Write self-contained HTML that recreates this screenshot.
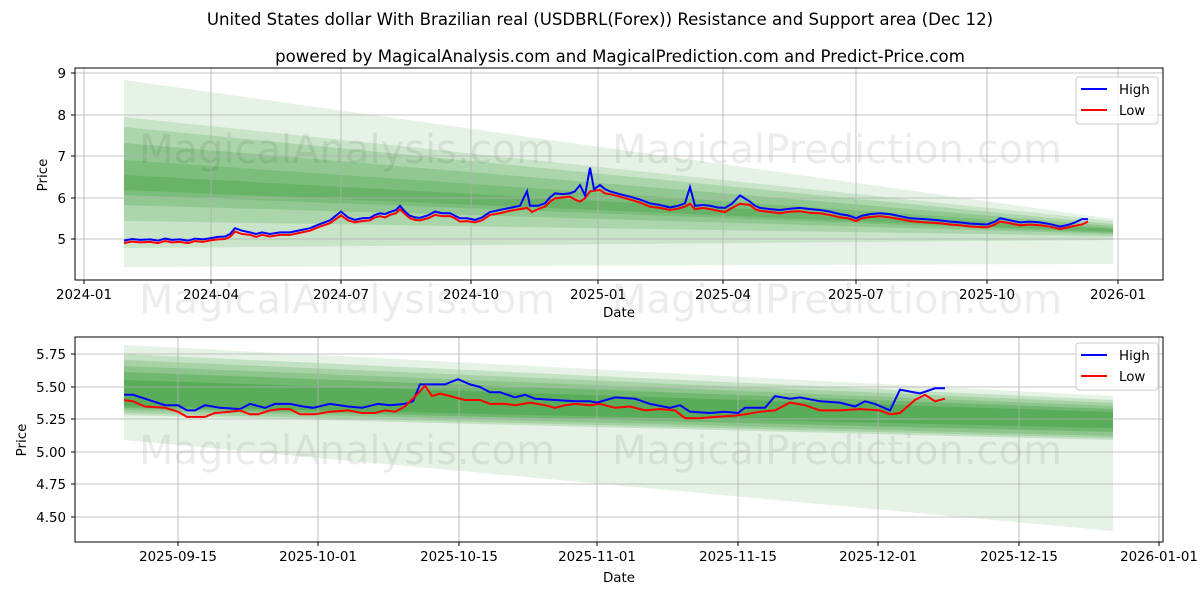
<!DOCTYPE html>
<html><head><style>body{margin:0;background:#fff}svg{display:block;font-family:"DejaVu Sans","Liberation Sans",sans-serif}</style></head><body>
<svg width="1200" height="600" xmlns="http://www.w3.org/2000/svg">
<text x="600" y="25" font-size="16.6" text-anchor="middle">United States dollar With Brazilian real (USDBRL(Forex)) Resistance and Support area (Dec 12)</text>
<text x="620" y="62" font-size="16.6" text-anchor="middle">powered by MagicalAnalysis.com and MagicalPrediction.com and Predict-Price.com</text>
<g fill="rgb(0,128,0)">
<polygon points="124,80 1113,219 1113,264 124,267" opacity="0.1"/>
<polygon points="124,117 1113,221 1113,240 124,248" opacity="0.12"/>
<polygon points="124,127 1113,224 1113,236 124,221" opacity="0.15"/>
<polygon points="124,143 1113,226 1113,234 124,205" opacity="0.15"/>
<polygon points="124,160 1113,228 1113,233 124,195" opacity="0.15"/>
<polygon points="124,175 1113,229 1113,232 124,190" opacity="0.15"/>
</g>
<g font-size="40" fill="#000" opacity="0.07" text-anchor="middle">
<text x="347" y="163">MagicalAnalysis.com</text><text x="837" y="163">MagicalPrediction.com</text>
<text x="347" y="313">MagicalAnalysis.com</text><text x="837" y="313">MagicalPrediction.com</text>
<text x="347" y="464">MagicalAnalysis.com</text><text x="837" y="464">MagicalPrediction.com</text>
</g>
<g stroke="#b0b0b0" stroke-width="0.8">
<line x1="84" y1="68" x2="84" y2="280"/><line x1="211" y1="68" x2="211" y2="280"/><line x1="341" y1="68" x2="341" y2="280"/><line x1="471" y1="68" x2="471" y2="280"/><line x1="598" y1="68" x2="598" y2="280"/><line x1="723" y1="68" x2="723" y2="280"/><line x1="856" y1="68" x2="856" y2="280"/><line x1="987" y1="68" x2="987" y2="280"/><line x1="1118" y1="68" x2="1118" y2="280"/>
<line x1="75" y1="73" x2="1163" y2="73"/><line x1="75" y1="115" x2="1163" y2="115"/><line x1="75" y1="156" x2="1163" y2="156"/><line x1="75" y1="198" x2="1163" y2="198"/><line x1="75" y1="239" x2="1163" y2="239"/>
</g>
<g transform="translate(0,446.5) scale(1,-41.5)" fill="none" stroke-width="2">
<polyline vector-effect="non-scaling-stroke" stroke="#ff0000" points="124,4.9 132,4.94 140,4.92 150,4.93 158,4.9 165,4.95 172,4.92 180,4.93 188,4.9 195,4.95 203,4.93 211,4.97 218,4.99 225,5.0 230,5.05 235,5.18 242,5.12 250,5.1 256,5.05 262,5.1 270,5.06 280,5.1 290,5.1 300,5.15 310,5.2 320,5.3 330,5.38 341,5.57 348,5.45 355,5.4 362,5.43 370,5.45 375,5.52 380,5.55 385,5.52 390,5.58 396,5.62 400,5.72 405,5.6 410,5.5 415,5.46 420,5.45 428,5.5 435,5.58 442,5.55 450,5.55 455,5.5 460,5.42 467,5.43 475,5.4 482,5.45 490,5.58 500,5.62 510,5.68 520,5.72 527,5.75 532,5.65 538,5.72 545,5.78 550,5.9 555,5.98 562,6.0 570,6.02 575,5.95 580,5.9 585,5.98 590,6.15 600,6.18 605,6.1 610,6.08 620,6.02 630,5.95 640,5.88 650,5.78 660,5.75 670,5.7 678,5.73 685,5.78 690,5.85 695,5.72 703,5.75 710,5.72 718,5.68 725,5.65 732,5.75 740,5.85 750,5.82 755,5.72 760,5.68 770,5.65 780,5.62 790,5.66 800,5.67 810,5.63 820,5.62 830,5.58 840,5.52 848,5.5 856,5.43 862,5.5 870,5.53 880,5.55 890,5.52 900,5.48 910,5.43 925,5.4 940,5.38 950,5.35 960,5.33 970,5.3 987,5.28 995,5.35 1000,5.42 1010,5.38 1020,5.33 1030,5.35 1040,5.33 1050,5.3 1060,5.24 1068,5.28 1075,5.32 1082,5.35 1088,5.42"/>
<polyline vector-effect="non-scaling-stroke" stroke="#0000ff" points="124,4.96 132,5.0 140,4.98 150,4.99 158,4.96 165,5.01 172,4.98 180,4.99 188,4.96 195,5.01 203,4.99 211,5.02 218,5.05 225,5.06 230,5.12 235,5.26 242,5.2 250,5.16 256,5.12 262,5.16 270,5.12 280,5.16 290,5.16 300,5.21 310,5.26 320,5.36 330,5.45 341,5.66 348,5.52 355,5.46 362,5.5 370,5.51 375,5.58 380,5.62 385,5.6 390,5.65 396,5.7 400,5.8 405,5.66 410,5.56 415,5.52 420,5.51 428,5.57 435,5.66 442,5.62 450,5.62 455,5.56 460,5.5 467,5.5 475,5.46 482,5.52 490,5.65 500,5.7 510,5.75 520,5.8 527,6.15 530,5.8 538,5.8 545,5.86 550,6.0 555,6.1 562,6.08 570,6.1 575,6.15 580,6.3 585,6.05 590,6.72 594,6.2 600,6.3 605,6.2 610,6.15 620,6.08 630,6.02 640,5.95 650,5.86 660,5.82 670,5.76 678,5.8 685,5.86 690,6.25 695,5.8 703,5.82 710,5.8 718,5.76 725,5.75 732,5.85 740,6.05 750,5.9 755,5.8 760,5.75 770,5.72 780,5.7 790,5.73 800,5.75 810,5.72 820,5.7 830,5.66 840,5.6 848,5.57 856,5.5 862,5.56 870,5.6 880,5.62 890,5.6 900,5.55 910,5.5 925,5.48 940,5.45 950,5.42 960,5.4 970,5.37 987,5.35 995,5.42 1000,5.5 1010,5.45 1020,5.4 1030,5.42 1040,5.4 1050,5.36 1060,5.3 1068,5.34 1075,5.4 1082,5.48 1088,5.48"/>
</g>
<rect x="75" y="68" width="1088" height="212" fill="none" stroke="#000" stroke-width="1"/>
<g font-size="13.4" text-anchor="middle">
<text x="84" y="299">2024-01</text><text x="211" y="299">2024-04</text><text x="341" y="299">2024-07</text><text x="471" y="299">2024-10</text><text x="598" y="299">2025-01</text><text x="723" y="299">2025-04</text><text x="856" y="299">2025-07</text><text x="987" y="299">2025-10</text><text x="1118" y="299">2026-01</text>
<text x="619" y="317" font-size="13.4">Date</text>
</g>
<g font-size="13.4" text-anchor="end">
<text x="66" y="78">9</text><text x="66" y="120">8</text><text x="66" y="161">7</text><text x="66" y="203">6</text><text x="66" y="244">5</text>
</g>
<text transform="translate(47,175) rotate(-90)" font-size="13.4" text-anchor="middle">Price</text>
<g stroke="#000" stroke-width="1"><line x1="84" y1="280" x2="84" y2="284"/><line x1="211" y1="280" x2="211" y2="284"/><line x1="341" y1="280" x2="341" y2="284"/><line x1="471" y1="280" x2="471" y2="284"/><line x1="598" y1="280" x2="598" y2="284"/><line x1="723" y1="280" x2="723" y2="284"/><line x1="856" y1="280" x2="856" y2="284"/><line x1="987" y1="280" x2="987" y2="284"/><line x1="1118" y1="280" x2="1118" y2="284"/>
<line x1="71" y1="73" x2="75" y2="73"/><line x1="71" y1="115" x2="75" y2="115"/><line x1="71" y1="156" x2="75" y2="156"/><line x1="71" y1="198" x2="75" y2="198"/><line x1="71" y1="239" x2="75" y2="239"/></g>
<rect x="1076" y="77" width="82" height="47" rx="3" fill="#fff" fill-opacity="0.8" stroke="#ccc"/>
<line x1="1081" y1="89" x2="1107" y2="89" stroke="#0000ff" stroke-width="2"/><text x="1119" y="94" font-size="13.4">High</text>
<line x1="1081" y1="110" x2="1107" y2="110" stroke="#ff0000" stroke-width="2"/><text x="1119" y="115" font-size="13.4">Low</text>

<g fill="rgb(0,128,0)">
<polygon points="124,345 1113,396 1113,531 124,440" opacity="0.1"/>
<polygon points="124,354 1113,400 1113,440 124,415" opacity="0.15"/>
<polygon points="124,360 1113,403 1113,438 124,413" opacity="0.15"/>
<polygon points="124,366 1113,406 1113,436 124,410" opacity="0.15"/>
<polygon points="124,372 1113,409 1113,432 124,408" opacity="0.2"/>
<polygon points="124,380 1113,412 1113,428 124,406" opacity="0.2"/>
</g>
<g stroke="#b0b0b0" stroke-width="0.8">
<line x1="178" y1="337" x2="178" y2="542"/><line x1="318" y1="337" x2="318" y2="542"/><line x1="459" y1="337" x2="459" y2="542"/><line x1="597" y1="337" x2="597" y2="542"/><line x1="738" y1="337" x2="738" y2="542"/><line x1="878" y1="337" x2="878" y2="542"/><line x1="1019" y1="337" x2="1019" y2="542"/><line x1="1159" y1="337" x2="1159" y2="542"/>
<line x1="75" y1="354" x2="1163" y2="354"/><line x1="75" y1="387" x2="1163" y2="387"/><line x1="75" y1="419" x2="1163" y2="419"/><line x1="75" y1="452" x2="1163" y2="452"/><line x1="75" y1="484" x2="1163" y2="484"/><line x1="75" y1="517" x2="1163" y2="517"/>
</g>
<g transform="translate(0,1102) scale(1,-130)" fill="none" stroke-width="2">
<polyline vector-effect="non-scaling-stroke" stroke="#0000ff" points="124,5.44 133,5.44 145,5.41 165,5.36 178,5.36 187,5.32 195,5.32 205,5.36 220,5.34 240,5.33 250,5.37 265,5.34 275,5.37 290,5.37 303,5.35 313,5.34 330,5.37 348,5.35 362,5.34 378,5.37 390,5.36 405,5.37 413,5.39 420,5.52 445,5.52 458,5.56 470,5.52 480,5.5 490,5.46 500,5.46 515,5.42 525,5.44 535,5.41 555,5.4 575,5.39 590,5.39 597,5.38 615,5.42 635,5.41 650,5.37 670,5.34 680,5.36 690,5.31 710,5.3 725,5.31 738,5.3 745,5.34 765,5.34 775,5.43 790,5.41 800,5.42 820,5.39 840,5.38 855,5.35 865,5.39 875,5.37 890,5.32 900,5.48 920,5.45 935,5.49 945,5.49"/>
<polyline vector-effect="non-scaling-stroke" stroke="#ff0000" points="124,5.40 133,5.39 145,5.35 165,5.34 178,5.31 187,5.27 195,5.27 205,5.27 215,5.3 230,5.31 240,5.32 250,5.29 258,5.29 270,5.32 280,5.33 290,5.33 300,5.29 315,5.29 330,5.31 348,5.32 362,5.3 375,5.3 385,5.32 395,5.31 405,5.35 418,5.45 425,5.51 432,5.43 440,5.45 450,5.43 465,5.4 480,5.4 490,5.37 505,5.37 515,5.36 530,5.38 545,5.36 555,5.34 565,5.36 575,5.37 590,5.36 600,5.37 615,5.34 630,5.35 645,5.32 660,5.33 675,5.32 685,5.26 700,5.26 715,5.27 735,5.28 745,5.29 760,5.31 775,5.32 790,5.38 805,5.36 820,5.32 840,5.32 860,5.33 880,5.32 890,5.29 900,5.3 915,5.4 925,5.44 935,5.39 945,5.41"/>
</g>
<rect x="75" y="337" width="1088" height="205" fill="none" stroke="#000" stroke-width="1"/>
<g stroke="#000" stroke-width="1"><line x1="178" y1="542" x2="178" y2="546"/><line x1="318" y1="542" x2="318" y2="546"/><line x1="459" y1="542" x2="459" y2="546"/><line x1="597" y1="542" x2="597" y2="546"/><line x1="738" y1="542" x2="738" y2="546"/><line x1="878" y1="542" x2="878" y2="546"/><line x1="1019" y1="542" x2="1019" y2="546"/><line x1="1159" y1="542" x2="1159" y2="546"/>
<line x1="71" y1="354" x2="75" y2="354"/><line x1="71" y1="387" x2="75" y2="387"/><line x1="71" y1="419" x2="75" y2="419"/><line x1="71" y1="452" x2="75" y2="452"/><line x1="71" y1="484" x2="75" y2="484"/><line x1="71" y1="517" x2="75" y2="517"/></g>
<g font-size="13.4" text-anchor="middle">
<text x="178" y="561">2025-09-15</text><text x="318" y="561">2025-10-01</text><text x="459" y="561">2025-10-15</text><text x="597" y="561">2025-11-01</text><text x="738" y="561">2025-11-15</text><text x="878" y="561">2025-12-01</text><text x="1019" y="561">2025-12-15</text><text x="1159" y="561">2026-01-01</text>
<text x="619" y="582">Date</text>
</g>
<g font-size="13.4" text-anchor="end">
<text x="66" y="359">5.75</text><text x="66" y="392">5.50</text><text x="66" y="424">5.25</text><text x="66" y="457">5.00</text><text x="66" y="489">4.75</text><text x="66" y="522">4.50</text>
</g>
<text transform="translate(26,440) rotate(-90)" font-size="13.4" text-anchor="middle">Price</text>
<rect x="1076" y="343" width="82" height="47" rx="3" fill="#fff" fill-opacity="0.8" stroke="#ccc"/>
<line x1="1081" y1="355" x2="1107" y2="355" stroke="#0000ff" stroke-width="2"/><text x="1119" y="360" font-size="13.4">High</text>
<line x1="1081" y1="376" x2="1107" y2="376" stroke="#ff0000" stroke-width="2"/><text x="1119" y="381" font-size="13.4">Low</text>
</svg>
</body></html>
